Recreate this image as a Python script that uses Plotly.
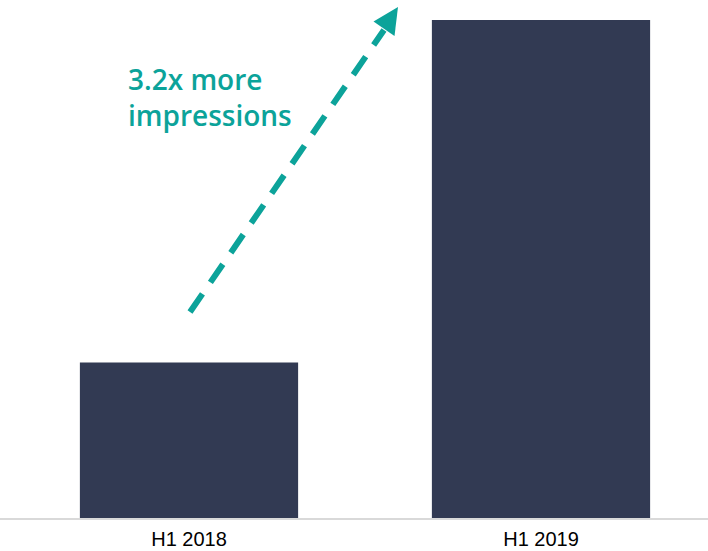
import plotly.graph_objects as go

categories = ["H1 2018", "H1 2019"]
impressions = [1.0, 3.2]
callout = "3.2x more<br>impressions"

W, H = 708, 551
MB = 33
PH = H - MB  # plot height in px

def px(x, y):
    return x / W, 1 - y / PH

fig = go.Figure(go.Bar(
    x=[0, 1], y=impressions,
    width=0.62,
    marker=dict(color="#323a53", line=dict(width=0)),
))

teal = "#0ca39a"
# dashed arrow shaft
x0, y0 = px(190, 312)
x1, y1 = px(384, 30)
fig.add_shape(type="line", xref="paper", yref="paper", x0=x0, y0=y0, x1=x1, y1=y1,
              line=dict(color=teal, width=6, dash="22px,14px"))
# arrowhead
tip = px(398, 7)
c1 = px(394.5, 36)
c2 = px(373.5, 21.5)
fig.add_shape(type="path", xref="paper", yref="paper",
              path=f"M {tip[0]},{tip[1]} L {c1[0]},{c1[1]} L {c2[0]},{c2[1]} Z",
              fillcolor=teal, line=dict(color=teal, width=0))

tx, ty = px(126, 58)
fig.add_annotation(xref="paper", yref="paper", x=tx, y=ty, xanchor="left", yanchor="top",
                   text=callout, showarrow=False, align="left",
                   font=dict(family="Open Sans", size=28, weight=600, color=teal))

# baseline
fig.add_shape(type="line", xref="paper", yref="paper", x0=0, x1=1, y0=-1/PH, y1=-1/PH,
              line=dict(color="#d9d9d9", width=2))

fig.update_layout(
    width=W, height=H,
    margin=dict(l=0, r=0, t=0, b=MB),
    plot_bgcolor="white", paper_bgcolor="white",
    showlegend=False,
    xaxis=dict(range=[-189/352, -189/352 + W/352], tickvals=[0, 1], ticktext=categories,
               showgrid=False, zeroline=False, showline=False, ticks="",
               automargin=False, ticklabelstandoff=7,
               tickfont=dict(family="Liberation Sans", size=20, color="#000000")),
    yaxis=dict(range=[0, PH / (498/3.2)], visible=False, showgrid=False, zeroline=False,
               automargin=False),
)

fig.write_html("out.html")
